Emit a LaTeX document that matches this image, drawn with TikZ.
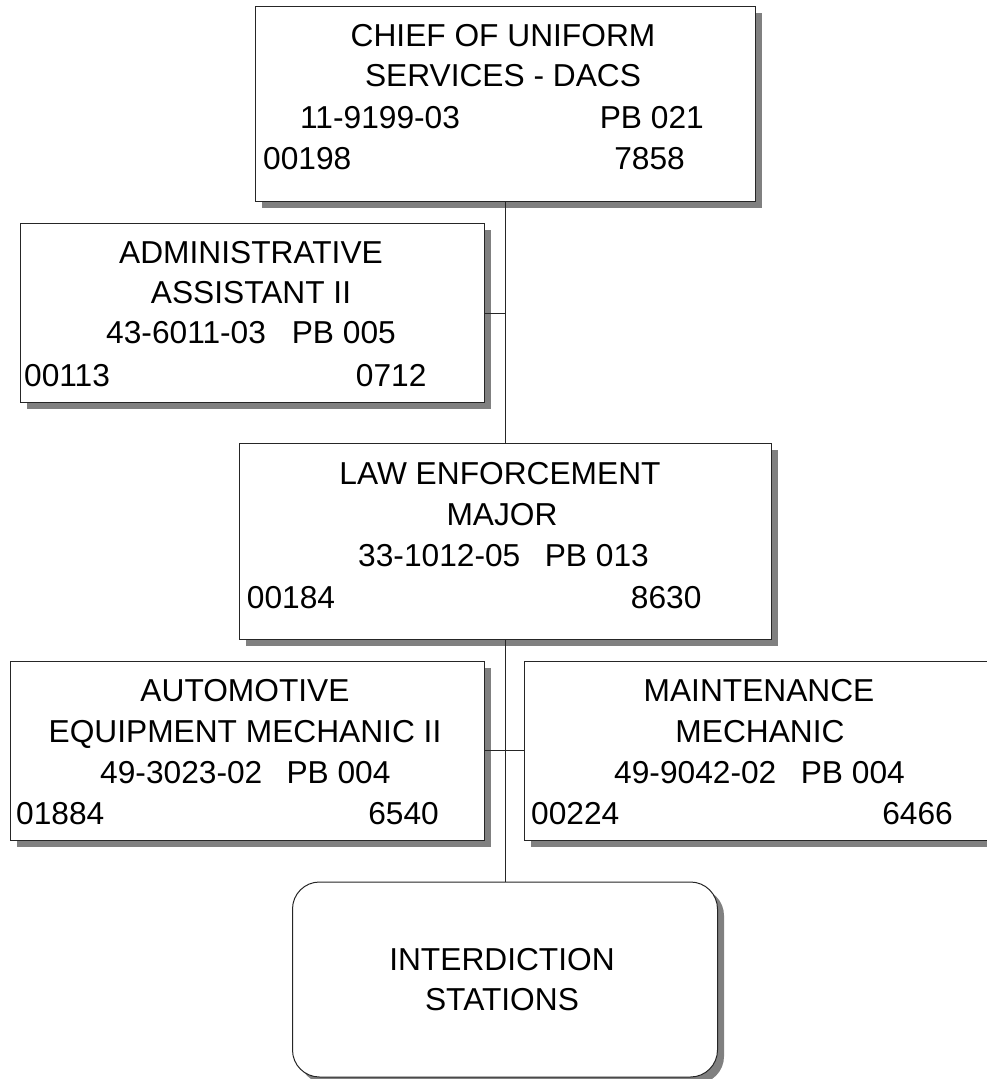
\documentclass[tikz,border=0pt]{standalone}
\usepackage{fontspec}
\setmainfont{Liberation Sans}
\usetikzlibrary{shadows}
\begin{document}
\begin{tikzpicture}[x=1pt,y=-1pt,
  post/.style={draw=black!85, line width=1pt, fill=white, inner sep=0pt,
    drop shadow={shadow xshift=6.5pt, shadow yshift=-6.5pt, fill=black!50, opacity=1}},
  roundpost/.style={post, rounded corners=27pt},
  txt/.style={inner sep=0pt, font=\fontsize{31.7}{36}\selectfont},
  link/.style={draw=black!85, line width=1pt}]
\useasboundingbox (0,0) rectangle (987,1079);

% position boxes
\node[post, minimum width=500pt, minimum height=195.5pt] (chief) at (505,103.75) {};
\node[post, minimum width=463.3pt, minimum height=179.4pt] (admin) at (252.35,313) {};
\node[post, minimum width=532pt, minimum height=196pt] (law) at (505,541.3) {};
\node[post, minimum width=474.3pt, minimum height=179pt] (auto) at (247.15,750.5) {};
\node[post, minimum width=469.5pt, minimum height=179pt] (maint) at (759.25,750.5) {};
\node[roundpost, minimum width=425pt, minimum height=195pt] (stations) at (505,979.5) {};

% reporting lines
\draw[link] (chief.south) -- (law.north);
\draw[link] (law.south) -- (stations.north);
\draw[link] (admin.east) -- (admin.east -| chief.south);
\draw[link] (auto.east) -- (maint.west);

% chief
\node[txt, anchor=base] (c1) at (503,46.7) {CHIEF OF UNIFORM};
\node[txt, anchor=base] (c2) at (503,86.5) {SERVICES - DACS};
\node[txt, anchor=base west] (c3) at (300,128) {11-9199-03};
\node[txt, anchor=base east] (c4) at (704,128) {PB 021};
\node[txt, anchor=base west] (c5) at (263,169) {00198};
\node[txt, anchor=base east] (c6) at (685,169) {7858};

% administrative assistant
\node[txt, anchor=base] (a1) at (251,263.3) {ADMINISTRATIVE};
\node[txt, anchor=base] (a2) at (251,303.3) {ASSISTANT II};
\node[txt, anchor=base west] (a3) at (106,343.3) {43-6011-03};
\node[txt, anchor=base east] (a4) at (396,343.3) {PB 005};
\node[txt, anchor=base west] (a5) at (24,386.5) {00113};
\node[txt, anchor=base east] (a6) at (426.7,386.5) {0712};

% law enforcement major
\node[txt, anchor=base] (l1) at (500,484) {LAW ENFORCEMENT};
\node[txt, anchor=base] (l2) at (502,525) {MAJOR};
\node[txt, anchor=base west] (l3) at (358,566) {33-1012-05};
\node[txt, anchor=base east] (l4) at (649,566) {PB 013};
\node[txt, anchor=base west] (l5) at (246.7,608) {00184};
\node[txt, anchor=base east] (l6) at (701.7,608) {8630};

% automotive equipment mechanic
\node[txt, anchor=base] (m1) at (245,701.7) {AUTOMOTIVE};
\node[txt, anchor=base] (m2) at (245,742) {EQUIPMENT MECHANIC II};
\node[txt, anchor=base west] (m3) at (100,783) {49-3023-02};
\node[txt, anchor=base east] (m4) at (390.7,783) {PB 004};
\node[txt, anchor=base west] (m5) at (16,824) {01884};
\node[txt, anchor=base east] (m6) at (439,824) {6540};

% maintenance mechanic
\node[txt, anchor=base] (n1) at (759,701.7) {MAINTENANCE};
\node[txt, anchor=base] (n2) at (760,742) {MECHANIC};
\node[txt, anchor=base west] (n3) at (614,783) {49-9042-02};
\node[txt, anchor=base east] (n4) at (905,783) {PB 004};
\node[txt, anchor=base west] (n5) at (531,824) {00224};
\node[txt, anchor=base east] (n6) at (953,824) {6466};

% interdiction stations
\node[txt, anchor=base] (s1) at (502,970) {INTERDICTION};
\node[txt, anchor=base] (s2) at (502,1010) {STATIONS};
\end{tikzpicture}
\end{document}
